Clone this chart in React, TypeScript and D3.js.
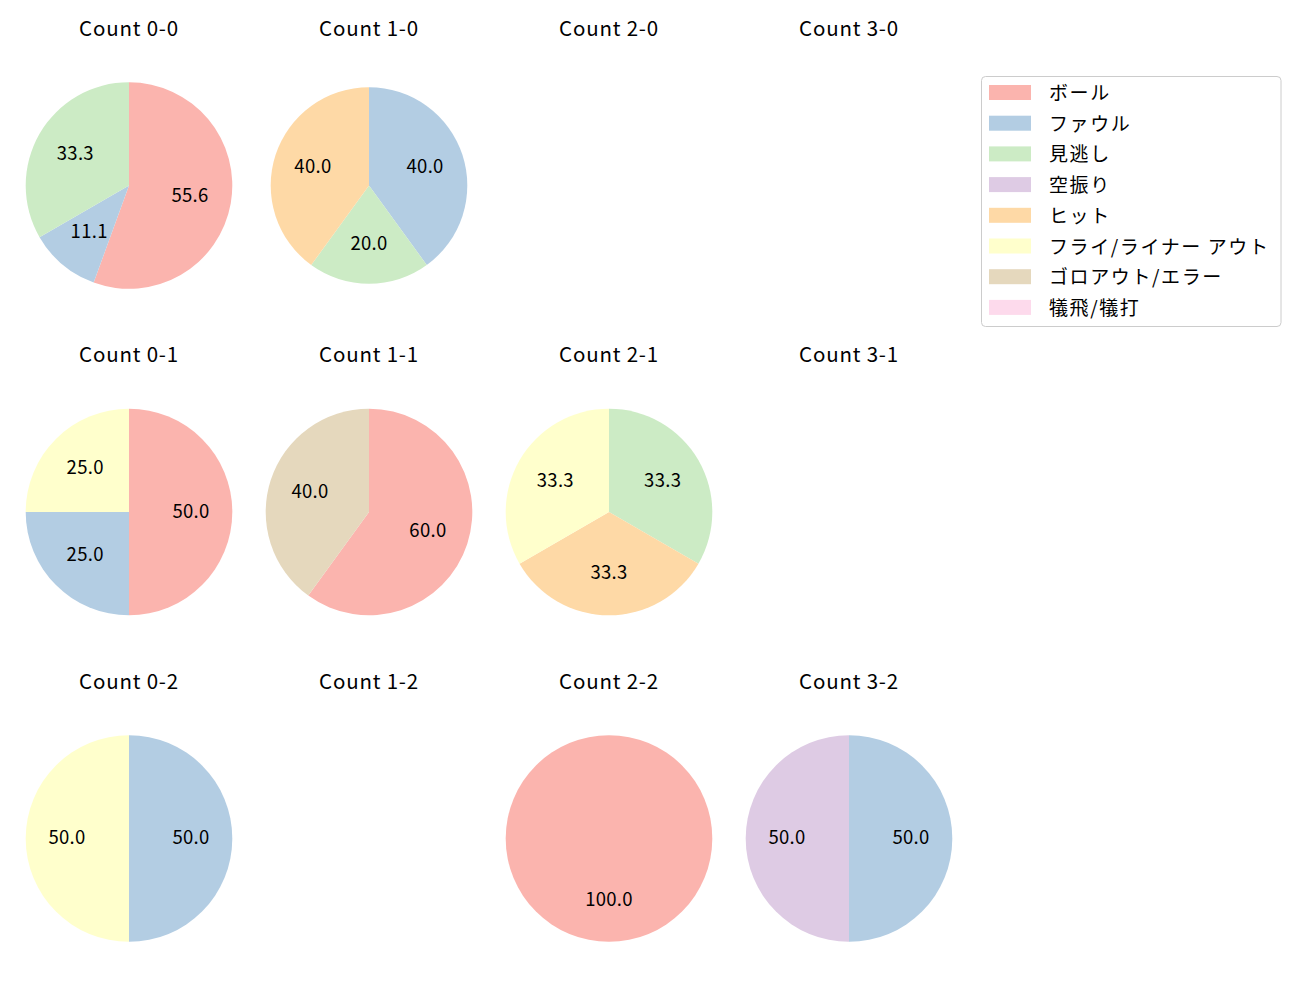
import React from "react";
import * as d3 from "d3";

const categories = ["ボール", "ファウル", "見逃し", "空振り", "ヒット", "フライ/ライナー アウト", "ゴロアウト/エラー", "犠飛/犠打"];
const colors = ["#fbb4ae", "#b3cde3", "#ccebc5", "#decbe4", "#fed9a6", "#ffffcc", "#e5d8bd", "#fddaec"];

const countLabels = ["0-0", "1-0", "2-0", "3-0", "0-1", "1-1", "2-1", "3-1", "0-2", "1-2", "2-2", "3-2"];
const v00 = [5, 1, 3, 0, 0, 0, 0, 0];
const v10 = [0, 2, 1, 0, 2, 0, 0, 0];
const v20: number[] = [];
const v30: number[] = [];
const v01 = [2, 1, 0, 0, 0, 1, 0, 0];
const v11 = [3, 0, 0, 0, 0, 0, 2, 0];
const v21 = [0, 0, 1, 0, 1, 1, 0, 0];
const v31: number[] = [];
const v02 = [0, 1, 0, 0, 0, 1, 0, 0];
const v12: number[] = [];
const v22 = [1, 0, 0, 0, 0, 0, 0, 0];
const v32 = [0, 1, 0, 1, 0, 0, 0, 0];
const countValues = [v00, v10, v20, v30, v01, v11, v21, v31, v02, v12, v22, v32];

const FONT = "'Noto Sans CJK JP', 'Noto Sans', sans-serif";

export default function App() {
  const W = 1300, H = 1000;
  const colX = d3.scalePoint().domain(["0", "1", "2", "3"]).range([129, 849]);
  const rowY = d3.scalePoint().domain(["0", "1", "2"]).range([185.5, 838.5]);
  const baseR = 103.3;
  const pie = d3.pie<{ v: number; i: number }>().value((d) => d.v).sort(null);

  return (
    <svg width={W} height={H} style={{ display: "block", position: "absolute", left: 0, top: 0 }} fontFamily={FONT}>
      <rect width={W} height={H} fill="white" />
      {countLabels.map((lbl, k) => {
        const [b, s] = lbl.split("-");
        const cx = colX(b)!;
        const cy = rowY(s)!;
        const vals = countValues[k];
        const r = lbl === "1-0" ? 98.3 : baseR;
        const data = vals.map((v, i) => ({ v, i })).filter((d) => d.v > 0);
        const total = d3.sum(data, (d) => d.v);
        const arcs = data.length ? pie(data) : [];
        const arc = d3.arc<d3.PieArcDatum<{ v: number; i: number }>>().innerRadius(0).outerRadius(r);
        return (
          <g key={lbl}>
            <text x={cx} y={cy - 149.8} textAnchor="middle" fontSize={20.5} letterSpacing={0.8} fill="#000">
              {`Count ${lbl}`}
            </text>
            <g transform={`translate(${cx},${cy})`}>
              {arcs.map((a) => (
                <path key={a.data.i} d={arc(a)!} fill={colors[a.data.i]} />
              ))}
              {arcs.map((a) => {
                const m = (a.startAngle + a.endAngle) / 2;
                const x = Math.sin(m) * r * 0.6;
                const y = -Math.cos(m) * r * 0.6;
                return (
                  <text key={"t" + a.data.i} x={x} y={y - 2.5} textAnchor="middle" dominantBaseline="central" fontSize={18.5} letterSpacing={0.3} fill="#000">
                    {((a.data.v / total) * 100).toFixed(1)}
                  </text>
                );
              })}
            </g>
          </g>
        );
      })}
      <g>
        <rect x={981.5} y={76.5} width={299.5} height={250} rx={4} fill="white" stroke="#cccccc" strokeWidth={1} />
        {categories.map((c, i) => (
          <g key={c} transform={`translate(989, ${85 + i * 30.7})`}>
            <rect width={42} height={15} fill={colors[i]} />
            <text x={60} y={6.5} dominantBaseline="central" fontSize={19} letterSpacing={1.6} fill="#000">{c}</text>
          </g>
        ))}
      </g>
    </svg>
  );
}
